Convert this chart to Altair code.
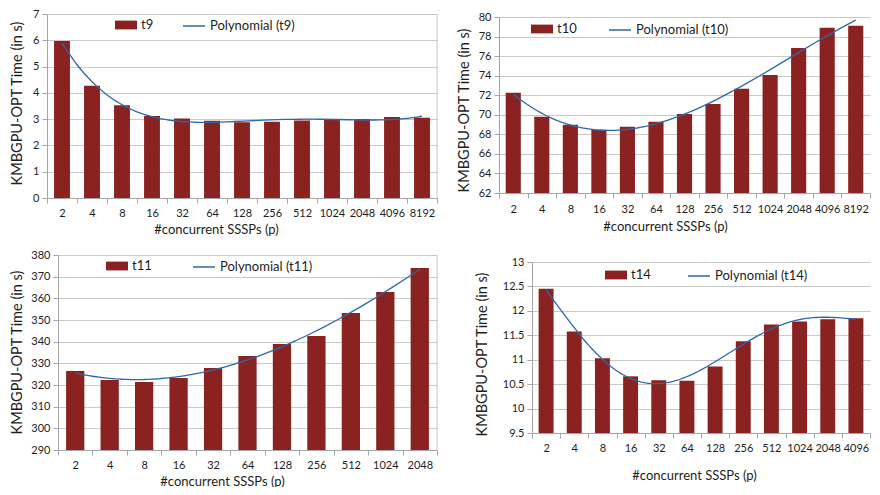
import altair as alt
import pandas as pd

# ---------------- data ----------------
P_T9 = ["2", "4", "8", "16", "32", "64", "128", "256", "512", "1024", "2048", "4096", "8192"]
T9 = [5.97, 4.27, 3.53, 3.12, 3.02, 2.94, 2.88, 2.90, 2.95, 2.97, 3.01, 3.08, 3.05]
Y_T9 = [0, 1, 2, 3, 4, 5, 6, 7]

P_T10 = ["2", "4", "8", "16", "32", "64", "128", "256", "512", "1024", "2048", "4096", "8192"]
T10 = [72.26, 69.80, 68.99, 68.48, 68.78, 69.29, 70.08, 71.10, 72.67, 74.07, 76.83, 78.91, 79.11]
Y_T10 = [62, 64, 66, 68, 70, 72, 74, 76, 78, 80]

P_T11 = ["2", "4", "8", "16", "32", "64", "128", "256", "512", "1024", "2048"]
T11 = [326.5, 322.3, 321.4, 323.2, 327.8, 333.4, 338.9, 342.6, 353.2, 362.9, 374.0]
Y_T11 = [290, 300, 310, 320, 330, 340, 350, 360, 370, 380]

P_T14 = ["2", "4", "8", "16", "32", "64", "128", "256", "512", "1024", "2048", "4096"]
T14 = [12.45, 11.58, 11.03, 10.66, 10.58, 10.57, 10.86, 11.38, 11.72, 11.78, 11.83, 11.85]
Y_T14 = [9.5, 10, 10.5, 11, 11.5, 12, 12.5, 13]

# ---------------- style ----------------
W, H = 864, 479
RED = "#8A2222"
BLUE = "#2E68A8"
FONT = "Lato"
TEXT = "#1E1E1E"
AXIS_GRAY = "#A6A6A6"
GRID_GRAY = "#C8C8C8"
XTITLE = "#concurrent SSSPs (p)"
YTITLE = "KMBGPU-OPT Time (in s)"
BAR_PATH = "M-1,-0.4 L1,-0.4 L1,0.4 L-1,0.4 Z"


def panel(labels, values, name, yticks, order, xr, yr, ytitle_xy, xtitle_xy,
          label_pad, leg_bar_xy, leg_line_xy, border):
    n = len(labels)
    df = pd.DataFrame({"idx": list(range(1, n + 1)), "val": values, "s": name})
    ymin, ymax = yticks[0], yticks[-1]
    half = 0.265
    cat_w = (xr[1] - xr[0]) / n
    arr = "[" + ",".join("'%s'" % l for l in labels) + "]"

    xscale = alt.Scale(domain=[0.5, n + 0.5], range=list(xr), nice=False, zero=False)
    yscale = alt.Scale(domain=[ymin, ymax], range=list(yr), nice=False, zero=False)

    xaxis = alt.Axis(
        orient="bottom", offset=yr[0] - H,
        values=[i + 0.5 for i in range(n + 1)],
        labelExpr=f"datum.value < {n} ? {arr}[floor(datum.value)] : ''",
        labelOffset=cat_w / 2, labelFlush=False, labelOverlap=False,
        grid=False, tickSize=5, labelPadding=label_pad,
        title=XTITLE, titleX=xtitle_xy[0], titleY=xtitle_xy[1],
        titleBaseline="middle", titleAlign="center", titleFontSize=13,
    )
    yaxis = alt.Axis(
        orient="left", offset=-xr[0], values=yticks, format="~f",
        grid=True, tickSize=5, labelPadding=3,
        title=YTITLE, titleX=ytitle_xy[0], titleY=ytitle_xy[1],
        titleAngle=270, titleBaseline="middle", titleAlign="center", titleFontSize=14.5,
    )

    bars = alt.Chart().transform_calculate(
        x0=f"datum.idx - {half}", x1=f"datum.idx + {half}", base=f"{ymin}"
    ).mark_bar().encode(
        x=alt.X("x0:Q", scale=xscale, axis=xaxis),
        x2="x1:Q",
        y=alt.Y("val:Q", scale=yscale, axis=yaxis),
        y2="base:Q",
        fill=alt.Fill("s:N", scale=alt.Scale(range=[RED]),
                      legend=alt.Legend(orient="none", legendX=leg_bar_xy[0], legendY=leg_bar_xy[1],
                                        title=None, symbolType=BAR_PATH, symbolSize=484,
                                        symbolStrokeWidth=0, labelOffset=4, padding=0)),
    )

    line = alt.Chart().transform_regression(
        "idx", "val", method="poly", order=order
    ).transform_calculate(
        s2=f"'Polynomial ({name})'"
    ).mark_line(strokeWidth=1.3).encode(
        x=alt.X("idx:Q", scale=xscale, axis=xaxis),
        y=alt.Y("val:Q", scale=yscale, axis=yaxis),
        stroke=alt.Stroke("s2:N", scale=alt.Scale(range=[BLUE]),
                          legend=alt.Legend(orient="none", legendX=leg_line_xy[0], legendY=leg_line_xy[1],
                                            title=None, symbolType="stroke", symbolSize=484,
                                            symbolStrokeWidth=1.5, labelOffset=4, padding=0)),
    )

    layers = [bars, line]
    if border:
        bdf = pd.DataFrame({"xb": [n + 0.5], "lo": [ymin], "hi": [ymax]})
        rule = alt.Chart(bdf).mark_rule(color=GRID_GRAY, strokeWidth=1).encode(
            x=alt.X("xb:Q", scale=xscale, axis=xaxis),
            y=alt.Y("lo:Q", scale=yscale, axis=yaxis),
            y2="hi:Q",
        )
        layers = [rule] + layers
    return alt.layer(*layers, data=df)


p1 = panel(P_T9, T9, "t9", Y_T9, 4, (39, 429), (190, 6), (-30, 95), (208, 31), 4,
           (107, 6), (174, 6), True)
p2 = panel(P_T10, T10, "t10", Y_T10, 3, (491, 862), (185, 9), (-35, 102), (657, 33), 5,
           (523, 10), (600, 10), False)
p3 = panel(P_T11, T11, "t11", Y_T11, 3, (50, 429), (442, 247), (-41, 344), (214, 31), 4,
           (98, 247), (184, 247), True)
p4 = panel(P_T14, T14, "t14", Y_T14, 5, (524, 862), (425, 254), (-50, 346), (686, 42), 4,
           (597, 256), (679, 256), False)

chart = alt.layer(p1, p2, p3, p4).resolve_scale(
    x="independent", y="independent", fill="independent", stroke="independent"
).resolve_axis(
    x="independent", y="independent"
).resolve_legend(
    fill="independent", stroke="independent"
).properties(
    width=W, height=H, autosize=alt.AutoSizeParams(type="none"), padding=0
).configure_view(
    strokeWidth=0
).configure_axis(
    labelFont=FONT, labelFontSize=11, labelColor=TEXT,
    titleFont=FONT, titleFontWeight="normal", titleColor=TEXT,
    domainColor=AXIS_GRAY, tickColor=AXIS_GRAY, gridColor=GRID_GRAY, gridWidth=1,
).configure_legend(
    labelFont=FONT, labelFontSize=13, labelColor=TEXT
)

chart.save("out.html", embed_options={"renderer": "svg", "actions": False})
